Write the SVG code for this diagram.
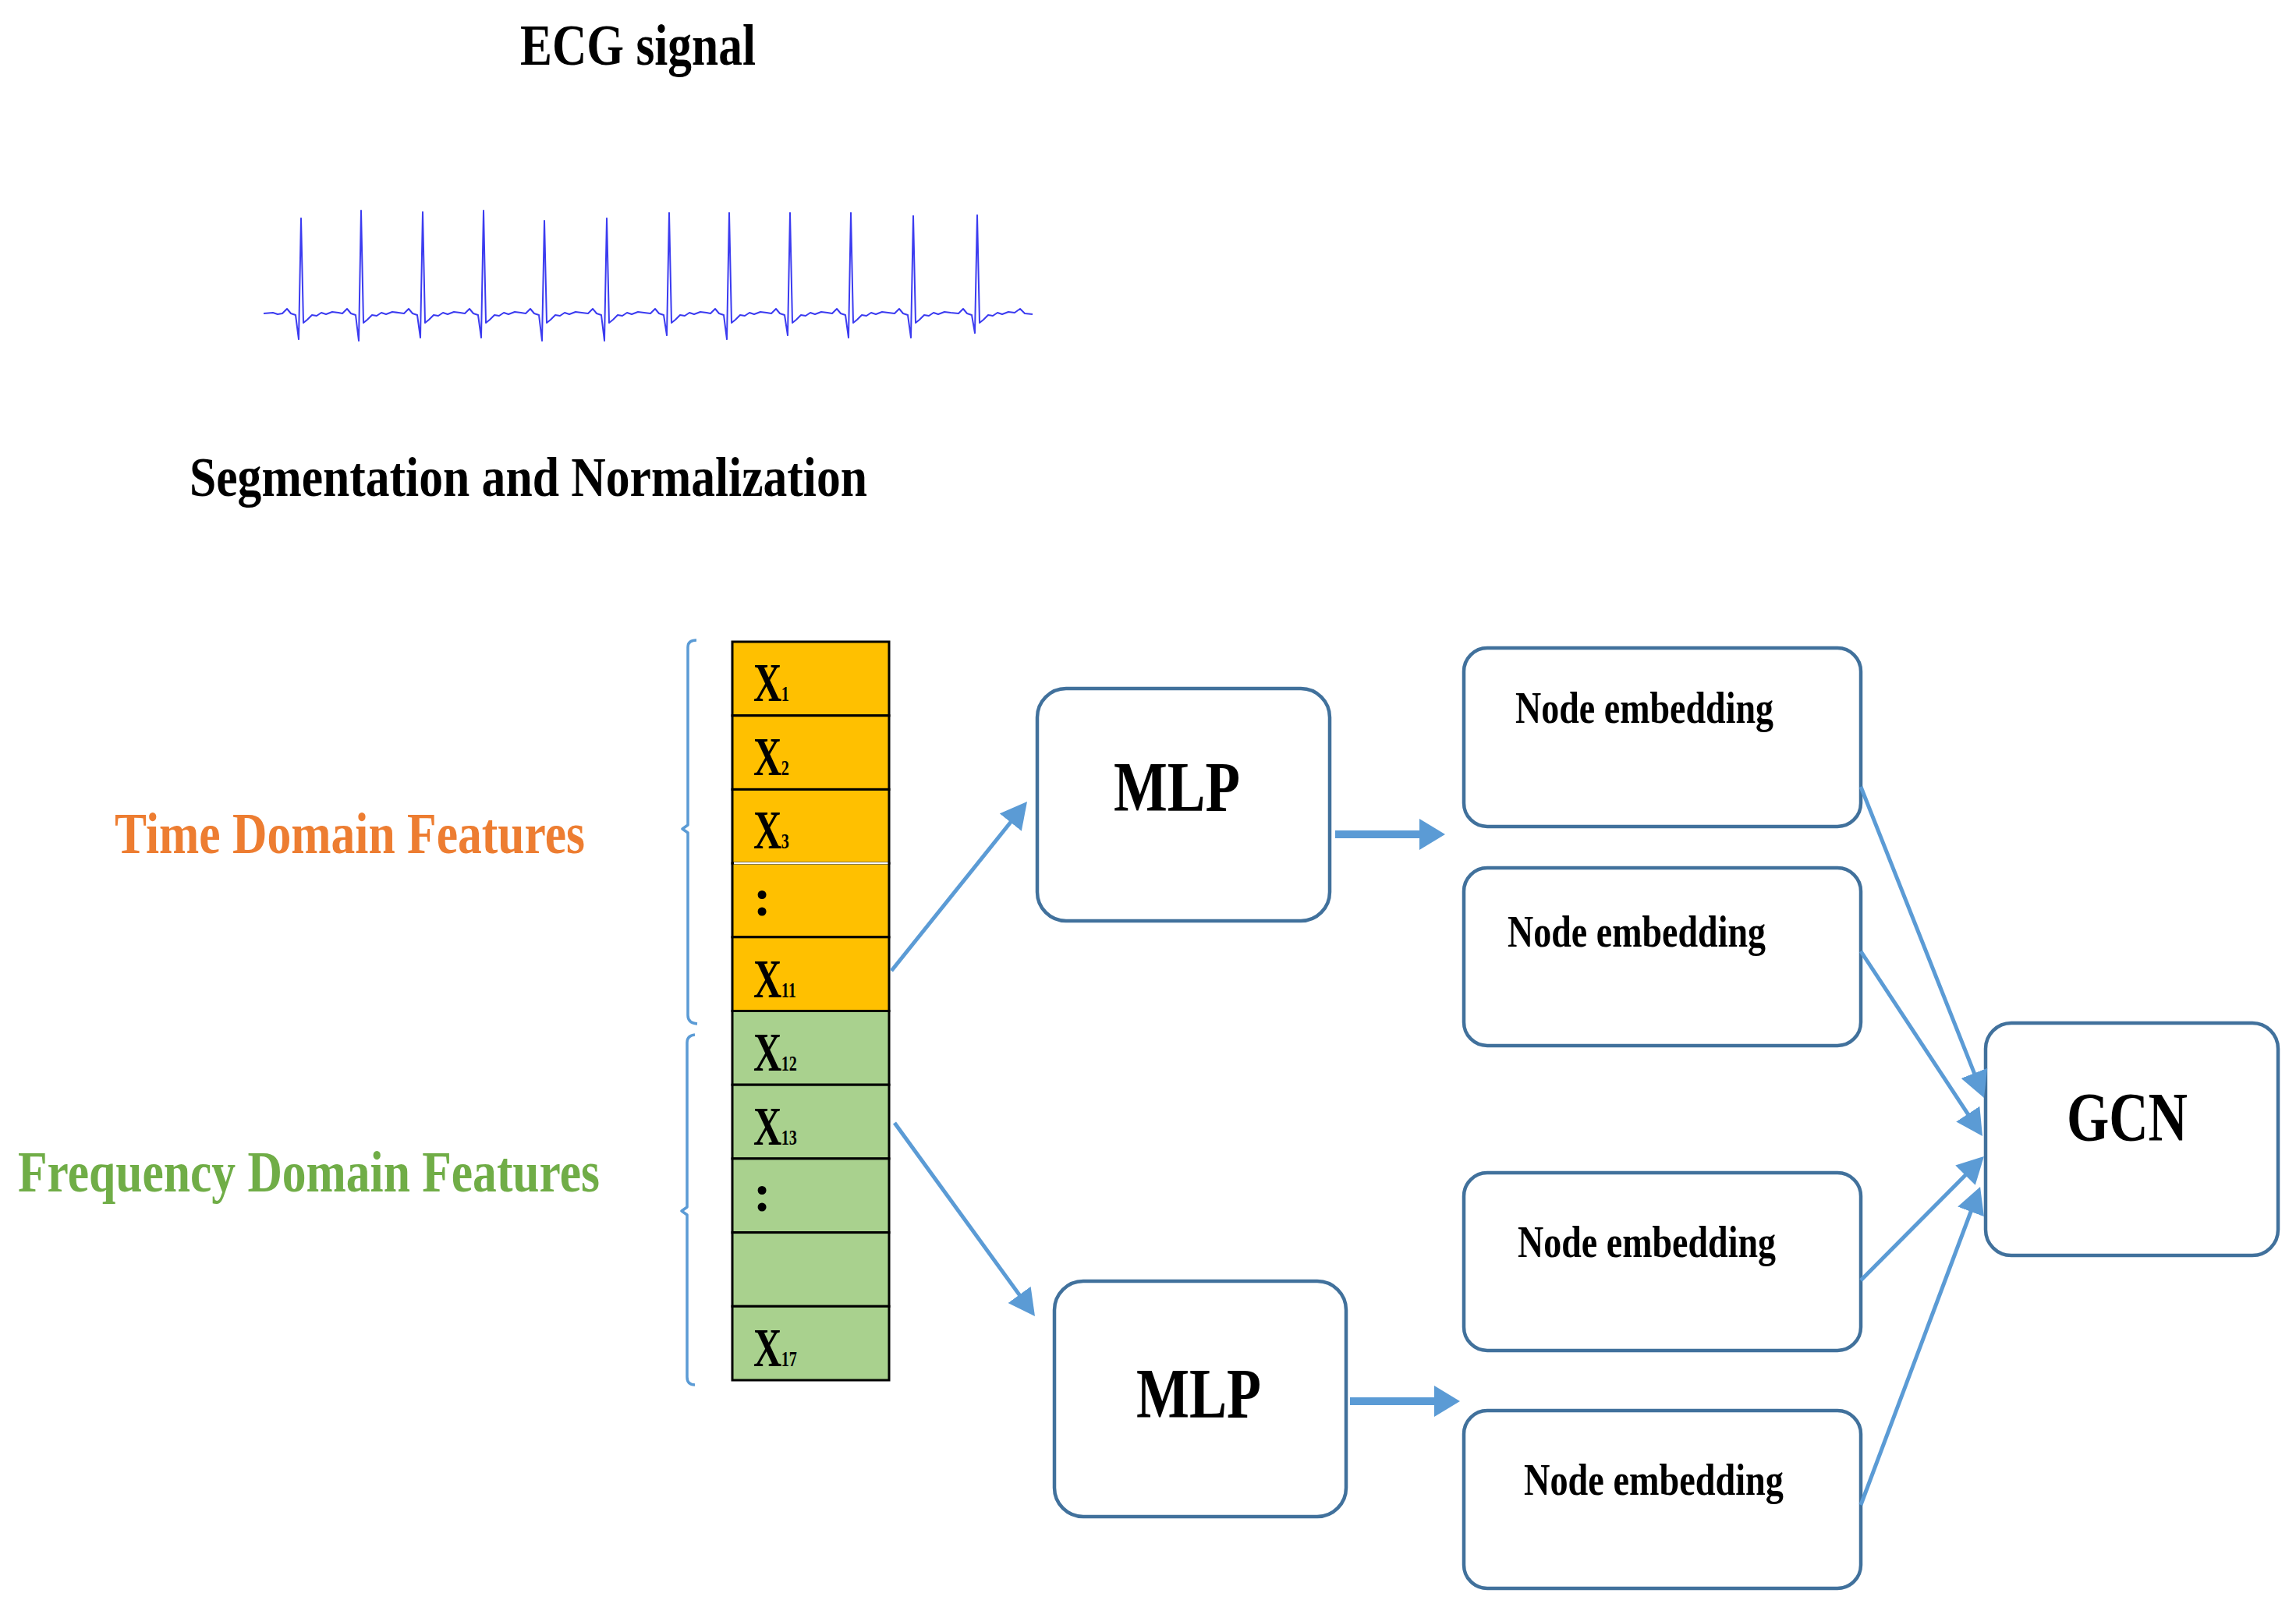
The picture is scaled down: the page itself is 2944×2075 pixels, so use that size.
<svg xmlns="http://www.w3.org/2000/svg" width="2944" height="2075" viewBox="0 0 2944 2075">
<style>
  .t { font-family: "Liberation Serif", "Times New Roman", serif; font-weight: bold; fill: #000; }
  .box { fill: #fff; stroke: #41719C; stroke-width: 4.5; }
  .cellT { fill: #FFC000; stroke: #000; stroke-width: 3; }
  .cellF { fill: #A9D18E; stroke: #000; stroke-width: 3; }
  .conn { stroke: #5B9BD5; stroke-width: 5; fill: none; }
  .thick { stroke: #5B9BD5; stroke-width: 10; fill: none; }
  .brace { stroke: #5B9BD5; stroke-width: 3.5; fill: none; stroke-linejoin: round; }
  .sub { font-size: 28px; }
  .ne { font-size: 57px; }
</style>
<defs>
  <marker id="ah" markerUnits="userSpaceOnUse" markerWidth="36" markerHeight="36" refX="2" refY="18" orient="auto" viewBox="0 0 36 36">
    <path d="M0,0 L34,18 L0,36 Z" fill="#5B9BD5"/>
  </marker>
  <marker id="ahb" markerUnits="userSpaceOnUse" markerWidth="36" markerHeight="40" refX="2" refY="20" orient="auto" viewBox="0 0 36 40">
    <path d="M0,0 L33,20 L0,40 Z" fill="#5B9BD5"/>
  </marker>
</defs>
<rect x="0" y="0" width="2944" height="2075" fill="#fff"/>

<g id="title">
  <text class="t" x="667" y="83" font-size="75" textLength="302" lengthAdjust="spacingAndGlyphs">ECG signal</text>
</g>

<g id="ecg-waveform">
  <path fill="none" stroke="#3B3BF0" stroke-width="2" stroke-linejoin="round" d="M338 402 L350 401 L356 403
  L362 402 L368 396 L373 402 L379 404 L383 435 L386 280 L389 414 L394 410 L400 404 L406 405 L412 401 L418 403 L426 400 L434 401
  L439 402 L445 396 L450 402 L456 404 L460 437 L463 270 L466 414 L471 410 L477 404 L483 405 L489 401 L495 403 L503 400 L511 401
  L518 402 L524 396 L529 402 L535 404 L539 433 L542 272 L545 414 L550 410 L556 404 L562 405 L568 401 L574 403 L582 400 L590 401
  L596 402 L602 396 L607 402 L613 404 L617 433 L620 270 L623 414 L628 410 L634 404 L640 405 L646 401 L652 403 L660 400 L668 401
  L674 402 L680 396 L685 402 L691 404 L695 437 L698 283 L701 414 L706 410 L712 404 L718 405 L724 401 L730 403 L738 400 L746 401
  L754 402 L760 396 L765 402 L771 404 L775 437 L778 280 L781 414 L786 410 L792 404 L798 405 L804 401 L810 403 L818 400 L826 401
  L834 402 L840 396 L845 402 L851 404 L855 430 L858 273 L861 414 L866 410 L872 404 L878 405 L884 401 L890 403 L898 400 L906 401
  L911 402 L917 396 L922 402 L928 404 L932 435 L935 273 L938 414 L943 410 L949 404 L955 405 L961 401 L967 403 L975 400 L983 401
  L989 402 L995 396 L1000 402 L1006 404 L1010 430 L1013 273 L1016 414 L1021 410 L1027 404 L1033 405 L1039 401 L1045 403 L1053 400 L1061 401
  L1067 402 L1073 396 L1078 402 L1084 404 L1088 433 L1091 273 L1094 414 L1099 410 L1105 404 L1111 405 L1117 401 L1123 403 L1131 400 L1139 401
  L1147 402 L1153 396 L1158 402 L1164 404 L1168 433 L1171 277 L1174 414 L1179 410 L1185 404 L1191 405 L1197 401 L1203 403 L1211 400 L1219 401
  L1229 402 L1235 396 L1240 402 L1246 404 L1250 427 L1253 276 L1256 414 L1261 410 L1267 404 L1273 405 L1279 401 L1285 403 L1293 400 L1301 401 L1308 396 L1314 402 L1324 403"/>
</g>

<g id="segmentation-label">
  <text class="t" x="243" y="636" font-size="72" textLength="869" lengthAdjust="spacingAndGlyphs">Segmentation and Normalization</text>
</g>

<g id="time-domain-label">
  <text class="t" x="147" y="1094" font-size="75" style="fill:#ED7D31" textLength="603" lengthAdjust="spacingAndGlyphs">Time Domain Features</text>
  <path class="brace" d="M893 821 Q882 821 882 830 L882 1058 L875 1063 L882 1068 L882 1302 Q882 1312 894 1313"/>
</g>

<g id="frequency-domain-label">
  <text class="t" x="23" y="1528" font-size="75" style="fill:#70AD47" textLength="746" lengthAdjust="spacingAndGlyphs">Frequency Domain Features</text>
  <path class="brace" d="M891 1327 Q881 1328 881 1337 L881 1548 L874 1553 L881 1558 L881 1766 Q881 1776 891 1776"/>
</g>

<g id="feature-column">
  <g id="x1"><rect class="cellT" x="939" y="823" width="201" height="94.7"/>
    <text class="t" transform="translate(966,899) scale(0.72,1)" font-size="70">X<tspan class="sub" dx="-1">1</tspan></text></g>
  <g id="x2"><rect class="cellT" x="939" y="917.7" width="201" height="94.7"/>
    <text class="t" transform="translate(966,994) scale(0.72,1)" font-size="70">X<tspan class="sub" dx="-1">2</tspan></text></g>
  <g id="x3"><rect class="cellT" x="939" y="1012.4" width="201" height="94.7"/>
    <text class="t" transform="translate(966,1088) scale(0.72,1)" font-size="70">X<tspan class="sub" dx="-1">3</tspan></text></g>
  <g id="x-dots-time"><rect class="cellT" x="939" y="1107.1" width="201" height="94.7"/>
    <text class="t" x="966" y="1174" font-size="68">:</text></g>
  <g id="x11"><rect class="cellT" x="939" y="1201.8" width="201" height="94.7"/>
    <text class="t" transform="translate(966,1279) scale(0.72,1)" font-size="70">X<tspan class="sub" dx="-1">11</tspan></text></g>
  <g id="x12"><rect class="cellF" x="939" y="1296.5" width="201" height="94.7"/>
    <text class="t" transform="translate(966,1373) scale(0.72,1)" font-size="70">X<tspan class="sub" dx="-1">12</tspan></text></g>
  <g id="x13"><rect class="cellF" x="939" y="1391.2" width="201" height="94.7"/>
    <text class="t" transform="translate(966,1468) scale(0.72,1)" font-size="70">X<tspan class="sub" dx="-1">13</tspan></text></g>
  <g id="x-dots-freq"><rect class="cellF" x="939" y="1485.9" width="201" height="94.7"/>
    <text class="t" x="966" y="1553" font-size="68">:</text></g>
  <g id="x-empty"><rect class="cellF" x="939" y="1580.6" width="201" height="94.7"/></g>
  <g id="x17"><rect class="cellF" x="939" y="1675.3" width="201" height="94.7"/>
    <text class="t" transform="translate(966,1752) scale(0.72,1)" font-size="70">X<tspan class="sub" dx="-1">17</tspan></text></g>
  <line x1="941" y1="1107.1" x2="1138.5" y2="1107.1" stroke="#fff" stroke-width="2.5"/>
</g>

<g id="mlp1">
  <rect class="box" x="1330" y="883" width="375" height="298" rx="37"/>
  <text class="t" x="1428" y="1040" font-size="90" textLength="162" lengthAdjust="spacingAndGlyphs">MLP</text>
</g>
<g id="mlp2">
  <rect class="box" x="1352" y="1643" width="374" height="302" rx="37"/>
  <text class="t" x="1457" y="1818" font-size="90" textLength="160" lengthAdjust="spacingAndGlyphs">MLP</text>
</g>

<g id="node-embedding-1">
  <rect class="box" x="1877" y="831" width="509" height="229" rx="30"/>
  <text class="t ne" x="1943" y="927" textLength="331" lengthAdjust="spacingAndGlyphs">Node embedding</text>
</g>
<g id="node-embedding-2">
  <rect class="box" x="1877" y="1113" width="509" height="228" rx="30"/>
  <text class="t ne" x="1933" y="1214" textLength="331" lengthAdjust="spacingAndGlyphs">Node embedding</text>
</g>
<g id="node-embedding-3">
  <rect class="box" x="1877" y="1504" width="509" height="228" rx="30"/>
  <text class="t ne" x="1946" y="1612" textLength="331" lengthAdjust="spacingAndGlyphs">Node embedding</text>
</g>
<g id="node-embedding-4">
  <rect class="box" x="1877" y="1809" width="509" height="228" rx="30"/>
  <text class="t ne" x="1954" y="1917" textLength="333" lengthAdjust="spacingAndGlyphs">Node embedding</text>
</g>

<g id="gcn">
  <rect class="box" x="2546" y="1312" width="375" height="298" rx="33"/>
  <text class="t" x="2650" y="1462" font-size="88" textLength="155" lengthAdjust="spacingAndGlyphs">GCN</text>
</g>

<g id="connectors">
  <line class="conn" x1="1143" y1="1245" x2="1297" y2="1053" marker-end="url(#ah)"/>
  <line class="conn" x1="1147" y1="1440" x2="1308.2" y2="1662.1" marker-end="url(#ah)"/>
  <line class="thick" x1="1712" y1="1070" x2="1822" y2="1070" marker-end="url(#ahb)"/>
  <line class="thick" x1="1731" y1="1797" x2="1841" y2="1797" marker-end="url(#ahb)"/>
  <line class="conn" x1="2386" y1="1009" x2="2532.2" y2="1378.2" marker-end="url(#ah)"/>
  <line class="conn" x1="2386" y1="1220" x2="2524.4" y2="1430.3" marker-end="url(#ah)"/>
  <line class="conn" x1="2386" y1="1642" x2="2521.4" y2="1505.7" marker-end="url(#ah)" stroke-width="6"/>
  <line class="conn" x1="2386" y1="1930" x2="2527.8" y2="1552" marker-end="url(#ah)"/>
</g>
</svg>
